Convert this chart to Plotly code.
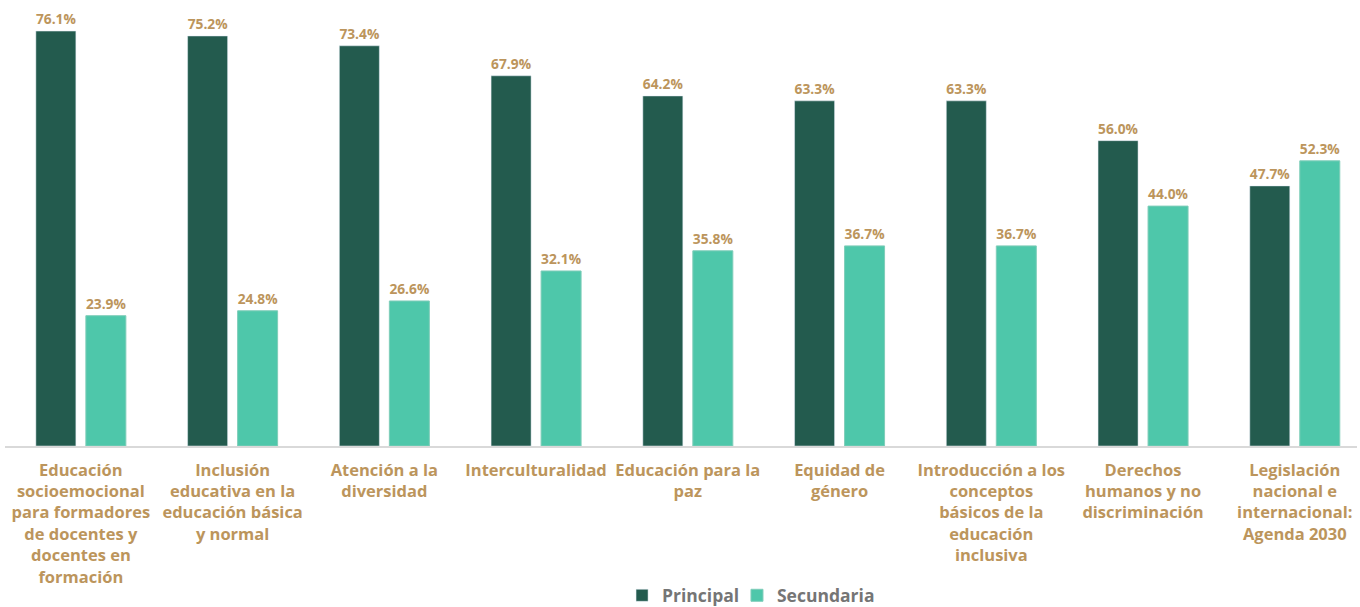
import plotly.graph_objects as go

categories = [
    "Educación<br>socioemocional<br>para formadores<br>de docentes y<br>docentes en<br>formación",
    "Inclusión<br>educativa en la<br>educación básica<br>y normal",
    "Atención a la<br>diversidad",
    "Interculturalidad",
    "Educación para la<br>paz",
    "Equidad de<br>género",
    "Introducción a los<br>conceptos<br>básicos de la<br>educación<br>inclusiva",
    "Derechos<br>humanos y no<br>discriminación",
    "Legislación<br>nacional e<br>internacional:<br>Agenda 2030",
]
principal = [76.1, 75.2, 73.4, 67.9, 64.2, 63.3, 63.3, 56.0, 47.7]
secundaria = [23.9, 24.8, 26.6, 32.1, 35.8, 36.7, 36.7, 44.0, 52.3]

FONT = "Open Sans"
GOLD = "#BC955C"
LEGEND_FONT = dict(family=FONT, size=17.5, color="#757575", weight="bold")

fig = go.Figure()
fig.add_trace(go.Bar(
    x=list(range(len(categories))), y=principal, name="Principal",
    marker=dict(color="#235B4E"),
    text=[f"{v:.1f}%" for v in principal], textposition="outside",
    textfont=dict(family=FONT, size=18, color=GOLD, weight="bold"),
    cliponaxis=False, legend="legend", showlegend=True,
))
fig.add_trace(go.Bar(
    x=list(range(len(categories))), y=secundaria, name="Secundaria",
    marker=dict(color="#4EC7AA", line=dict(color="#7FCDB9", width=1)),
    text=[f"{v:.1f}%" for v in secundaria], textposition="outside",
    textfont=dict(family=FONT, size=18, color=GOLD, weight="bold"),
    cliponaxis=False, legend="legend2", showlegend=True,
))

fig.update_layout(
    width=1360, height=607,
    showlegend=True,
    margin=dict(l=5, r=3, t=0, b=161, autoexpand=False),
    plot_bgcolor="white", paper_bgcolor="white",
    barmode="group", bargap=0.341, bargroupgap=0.2,
    font=dict(family=FONT),
    legend=dict(
        orientation="h", x=0.4564, xanchor="left", y=-0.335, yanchor="middle",
        font=LEGEND_FONT, itemwidth=30, bgcolor="rgba(0,0,0,0)",
    ),
    legend2=dict(
        orientation="h", x=0.5414, xanchor="left", y=-0.335, yanchor="middle",
        font=LEGEND_FONT, itemwidth=30, bgcolor="rgba(0,0,0,0)",
    ),
    xaxis=dict(
        tickmode="array", tickvals=list(range(len(categories))), ticktext=categories,
        range=[-0.5, 8.41], automargin=False,
        showline=True, linecolor="#D9D9D9", linewidth=1.5,
        ticks="", showgrid=False, zeroline=False, ticklabelstandoff=8,
        tickfont=dict(family=FONT, size=16.5, color=GOLD, weight="bold"),
    ),
    yaxis=dict(
        range=[0, 81.8], visible=False, showgrid=False, zeroline=False,
        automargin=False,
    ),
)

fig.write_html(
    "out.html",
    config={"displayModeBar": False},
    post_script="document.body.style.margin='0';document.body.style.overflow='hidden';",
)
